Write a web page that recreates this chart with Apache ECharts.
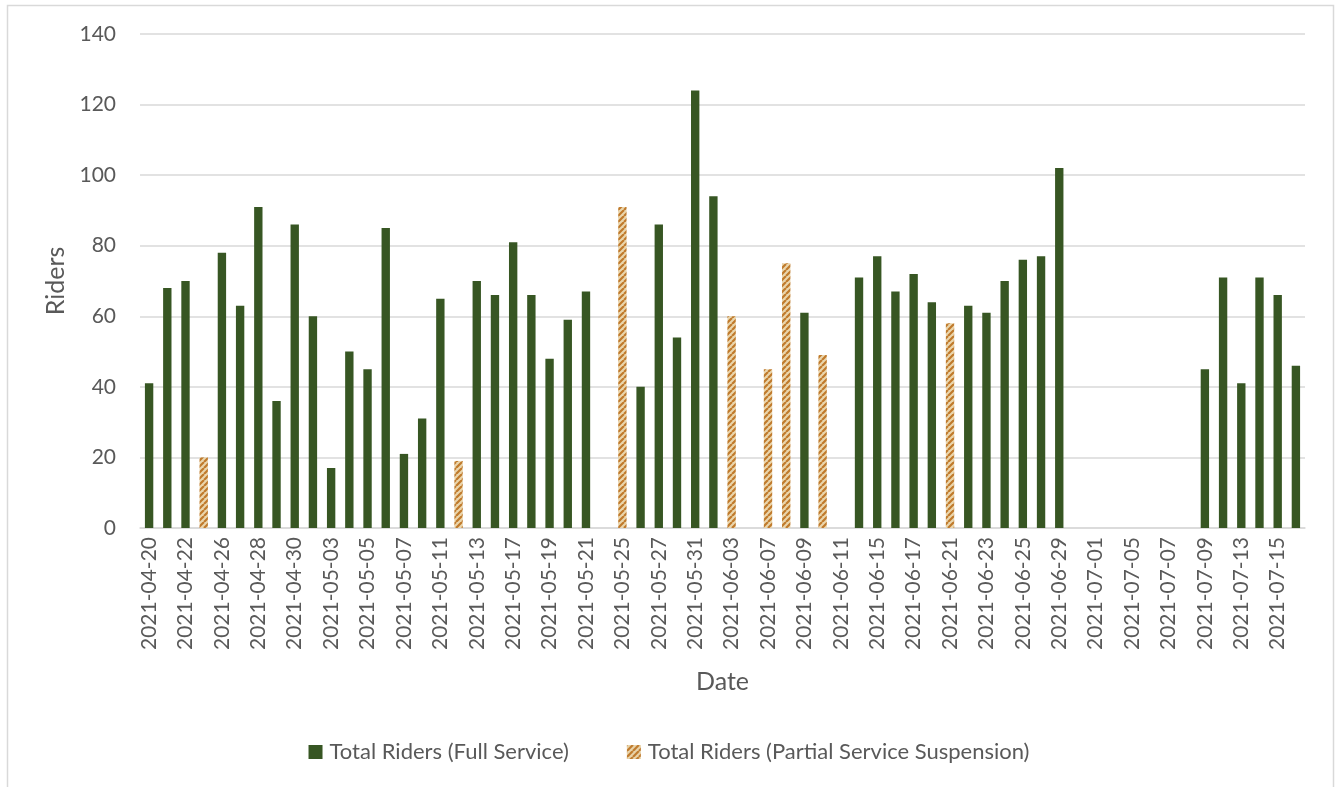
<!DOCTYPE html>
<html>
<head>
<meta charset="utf-8">
<script src="https://cdn.jsdelivr.net/npm/echarts@6/dist/echarts.min.js"></script>
<style>
  html, body { margin: 0; padding: 0; background: #fff; }
  #chart { width: 1338px; height: 787px; }
</style>
</head>
<body>
<div id="chart"></div>
<script>
// Service days
const dates = [
  '2021-04-20','2021-04-21','2021-04-22','2021-04-23','2021-04-26','2021-04-27','2021-04-28','2021-04-29',
  '2021-04-30','2021-05-01','2021-05-03','2021-05-04','2021-05-05','2021-05-06','2021-05-07','2021-05-10',
  '2021-05-11','2021-05-12','2021-05-13','2021-05-14','2021-05-17','2021-05-18','2021-05-19','2021-05-20',
  '2021-05-21','2021-05-24','2021-05-25','2021-05-26','2021-05-27','2021-05-28','2021-05-31','2021-06-01',
  '2021-06-03','2021-06-04','2021-06-07','2021-06-08','2021-06-09','2021-06-10','2021-06-11','2021-06-14',
  '2021-06-15','2021-06-16','2021-06-17','2021-06-18','2021-06-21','2021-06-22','2021-06-23','2021-06-24',
  '2021-06-25','2021-06-28','2021-06-29','2021-06-30','2021-07-01','2021-07-02','2021-07-05','2021-07-06',
  '2021-07-07','2021-07-08','2021-07-09','2021-07-12','2021-07-13','2021-07-14','2021-07-15','2021-07-16'
];

// Riders on days with full service
const fullService = [
  41, 68, 70, null, 78, 63, 91, 36,
  86, 60, 17, 50, 45, 85, 21, 31,
  65, null, 70, 66, 81, 66, 48, 59,
  67, null, null, 40, 86, 54, 124, 94,
  null, null, null, null, 61, null, null, 71,
  77, 67, 72, 64, null, 63, 61, 70,
  76, 77, 102, null, null, null, null, null,
  null, null, 45, 71, 41, 71, 66, 46
];

// Riders on days with a partial service suspension
const partialService = [
  null, null, null, 20, null, null, null, null,
  null, null, null, null, null, null, null, null,
  null, 19, null, null, null, null, null, null,
  null, null, 91, null, null, null, null, null,
  60, null, 45, 75, null, 49, null, null,
  null, null, null, null, 58, null, null, null,
  null, null, null, null, null, null, null, null,
  null, null, null, null, null, null, null, null
];

const yTicks = { min: 0, max: 140, interval: 20 };

// Diagonal orange / beige hatch fill
function makeHatch() {
  const c = document.createElement('canvas');
  const s = 6;
  c.width = s; c.height = s;
  const g = c.getContext('2d');
  g.fillStyle = '#ead6ad';
  g.fillRect(0, 0, s, s);
  g.strokeStyle = '#c07a2c';
  g.lineWidth = 2.2;
  g.beginPath();
  for (let k = -s; k <= 2 * s; k += s) {
    g.moveTo(k, s);
    g.lineTo(k + s, 0);
  }
  g.stroke();
  return c;
}
const hatch = { image: makeHatch(), repeat: 'repeat' };

const FONT = 'Lato, "Open Sans", sans-serif';
const TXT = '#595959';

const chart = echarts.init(document.getElementById('chart'), null, { renderer: 'canvas' });
chart.setOption({
  animation: false,
  backgroundColor: '#ffffff',
  graphic: [{
    type: 'rect',
    shape: { x: 7.5, y: 5.5, width: 1326, height: 820 },
    style: { fill: 'none', stroke: '#d9d9d9', lineWidth: 1.5 },
    silent: true
  }],
  grid: { left: 140, right: 33, top: 34, bottom: 259, containLabel: false },
  legend: {
    bottom: 19,
    left: 'center',
    itemWidth: 14,
    itemHeight: 14,
    itemGap: 58,
    icon: 'rect',
    textStyle: { color: TXT, fontFamily: FONT, fontSize: 22, padding: [0, 0, 0, 2] },
    data: ['Total Riders (Full Service)', 'Total Riders (Partial Service Suspension)']
  },
  xAxis: {
    type: 'category',
    data: dates,
    boundaryGap: true,
    name: 'Date',
    nameLocation: 'middle',
    nameGap: 141,
    nameTextStyle: { color: TXT, fontFamily: FONT, fontSize: 25 },
    axisLine: { lineStyle: { color: '#d9d9d9', width: 1.5 } },
    axisTick: { show: false },
    axisLabel: {
      interval: 1,
      rotate: 90,
      margin: 9,
      color: TXT,
      fontFamily: FONT,
      fontSize: 21
    },
    splitLine: { show: false }
  },
  yAxis: {
    type: 'value',
    min: yTicks.min,
    max: yTicks.max,
    interval: yTicks.interval,
    name: 'Riders',
    nameLocation: 'middle',
    nameGap: 71,
    nameTextStyle: { color: TXT, fontFamily: FONT, fontSize: 25 },
    axisLine: { show: false },
    axisTick: { show: false },
    axisLabel: { color: TXT, fontFamily: FONT, fontSize: 21, margin: 24 },
    splitLine: { lineStyle: { color: '#d9d9d9', width: 1.5 } }
  },
  series: [
    {
      name: 'Total Riders (Full Service)',
      type: 'bar',
      stack: 'riders',
      barWidth: '46%',
      data: fullService,
      itemStyle: { color: '#375623' }
    },
    {
      name: 'Total Riders (Partial Service Suspension)',
      type: 'bar',
      stack: 'riders',
      barWidth: '46%',
      data: partialService,
      itemStyle: { color: hatch }
    }
  ]
});
</script>
</body>
</html>
